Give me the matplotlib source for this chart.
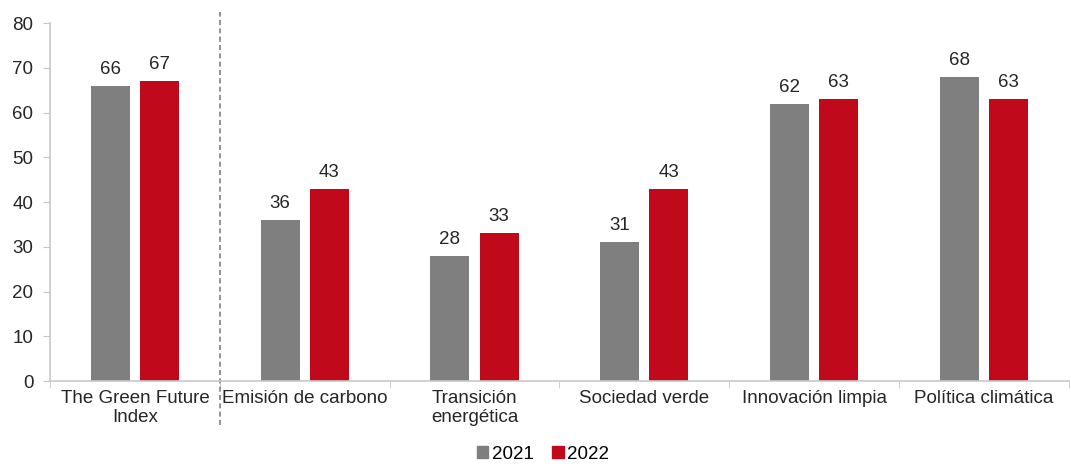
import numpy as np
import matplotlib.pyplot as plt
from matplotlib.lines import Line2D
from matplotlib.patches import Patch

plt.rcParams['font.family'] = ['Liberation Sans', 'DejaVu Sans']

categories = ["The Green Future\nIndex", "Emisión de carbono", "Transición\nenergética",
              "Sociedad verde", "Innovación limpia", "Política climática"]
values_2021 = [66, 36, 28, 31, 62, 68]
values_2022 = [67, 43, 33, 43, 63, 63]

gray = "#7F7F7F"
red = "#C0091A"
axis_color = "#C8C8C8"

fig = plt.figure(figsize=(10.71, 4.70), dpi=100)
ax = fig.add_axes([0.0467, 0.189, 0.9513, 0.762])

x = np.arange(len(categories))
w = 0.23
off = 0.145
b1 = ax.bar(x - off, values_2021, w, color=gray)
b2 = ax.bar(x + off, values_2022, w, color=red)

for bars, vals in ((b1, values_2021), (b2, values_2022)):
    for b, v in zip(bars, vals):
        ax.text(b.get_x() + b.get_width() / 2, v + 1.8, str(v),
                ha="center", va="bottom", fontsize=13.5, color="#262626")

ax.set_xlim(-0.5, len(categories) - 0.5)
ax.set_ylim(0, 80)
ax.set_yticks(range(0, 81, 10))
ax.tick_params(axis="y", labelsize=13.5, colors="#262626", length=5, color=axis_color, pad=7)

ax.set_xticks(x)
ax.set_xticklabels(categories, fontsize=13.5, color="#262626")
ax.set_xticks(np.arange(len(categories) + 1) - 0.5, minor=True)
ax.tick_params(axis="x", which="major", length=0, pad=6)
ax.tick_params(axis="x", which="minor", length=5, color=axis_color)

for s in ("top", "right"):
    ax.spines[s].set_visible(False)
for s in ("left", "bottom"):
    ax.spines[s].set_color(axis_color)
    ax.spines[s].set_linewidth(1.2)

# dashed separator between the index and its components
sep = Line2D([0.5, 0.5], [-0.123, 1.031], transform=ax.get_xaxis_transform(),
             color="#808080", linestyle=(0, (3, 2)), linewidth=1.2, clip_on=False)
ax.add_line(sep)

handles = [Patch(color=gray, label="2021"), Patch(color=red, label="2022")]
fig.legend(handles=handles, loc="lower center", bbox_to_anchor=(0.507, -0.02), ncol=2,
           frameon=False, fontsize=13.5, handlelength=0.6, handleheight=0.6,
           handletextpad=0.2, columnspacing=1.0)

plt.savefig("out.png", dpi=100)
